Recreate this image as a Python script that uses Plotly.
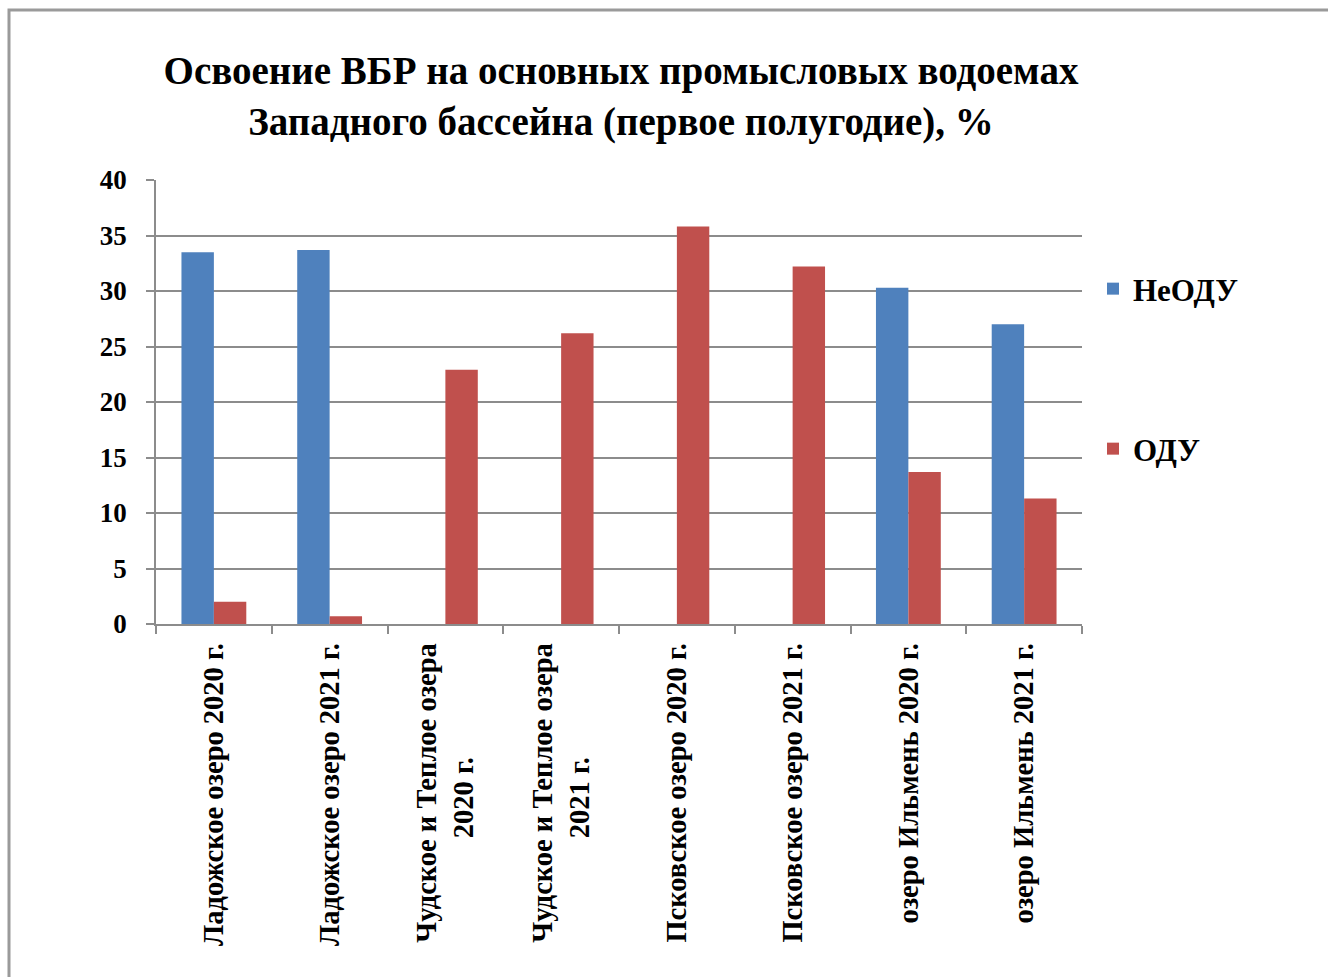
import plotly.graph_objects as go

categories = [
    "Ладожское озеро 2020 г.",
    "Ладожское озеро 2021 г.",
    "Чудское и Теплое озера 2020 г.",
    "Чудское и Теплое озера 2021 г.",
    "Псковское озеро 2020 г.",
    "Псковское озеро 2021 г.",
    "озеро Ильмень 2020 г.",
    "озеро Ильмень 2021 г.",
]
tick_labels = [
    "Ладожское озеро 2020 г.",
    "Ладожское озеро 2021 г.",
    "Чудское и Теплое озера<br>2020 г." + "\u00a0" * 16,
    "Чудское и Теплое озера<br>2021 г." + "\u00a0" * 16,
    "Псковское озеро 2020 г.",
    "Псковское озеро 2021 г.",
    "озеро Ильмень 2020 г.",
    "озеро Ильмень 2021 г.",
]
neodu = [33.5, 33.7, None, None, None, None, 30.3, 27.0]
odu = [2.0, 0.7, 22.9, 26.2, 35.8, 32.2, 13.7, 11.3]
yticks = [0, 5, 10, 15, 20, 25, 30, 35, 40]

FONT = "Liberation Serif"

fig = go.Figure()
fig.add_trace(go.Bar(x=categories, y=neodu, name="<b>НеОДУ</b>",
                     marker=dict(color="#4F81BD", line=dict(width=0)), legend="legend"))
fig.add_trace(go.Bar(x=categories, y=odu, name="<b>ОДУ</b>",
                     marker=dict(color="#C0504D", line=dict(width=0)), legend="legend2"))

L, R, T, B = 156, 1082, 180, 624
W, H = R - L, B - T

fig.update_layout(
    width=1328, height=977,
    margin=dict(l=L, r=1328 - R, t=T, b=977 - B, pad=0),
    paper_bgcolor="white", plot_bgcolor="white",
    barmode="group", bargap=0.44, bargroupgap=0,
    font=dict(family=FONT, color="black"),
    title=dict(
        text="<b>Освоение ВБР на основных промысловых водоемах<br>Западного бассейна (первое полугодие), %</b>",
        x=621 / 1328, xanchor="center", xref="container",
        y=1 - 84 / 977, yanchor="middle", yref="container",
        font=dict(family=FONT, size=39, color="black"),
    ),
    legend=dict(x=(1093 - L) / W, y=(B - 289) / H, xanchor="left", yanchor="middle",
                font=dict(family=FONT, size=31, color="black"), bgcolor="rgba(0,0,0,0)",
                itemclick=False),
    legend2=dict(x=(1093 - L) / W, y=(B - 449) / H, xanchor="left", yanchor="middle",
                 font=dict(family=FONT, size=31, color="black"), bgcolor="rgba(0,0,0,0)",
                 itemclick=False),
    showlegend=True,
    xaxis=dict(
        type="category", tickangle=-90, tickson="boundaries",
        tickvals=categories, ticktext=[f"<b>{t}</b>" for t in tick_labels],
        ticks="outside", ticklen=8, tickcolor="#8c8c8c", tickwidth=1.5,
        showline=True, linecolor="#8c8c8c", linewidth=1.5,
        showgrid=False, ticklabelstandoff=6,
        tickfont=dict(family=FONT, size=28.5, color="black"),
    ),
    yaxis=dict(
        range=[0, 40], tickvals=yticks, ticktext=[f"<b>{v}</b>" for v in yticks],
        ticks="outside", ticklen=8, tickcolor="#8c8c8c", tickwidth=1.5,
        showline=True, linecolor="#8c8c8c", linewidth=1.5,
        showgrid=True, gridcolor="#8c8c8c", gridwidth=1.5,
        zeroline=False, ticklabelstandoff=14,
        tickfont=dict(family=FONT, size=27, color="black"),
    ),
)

fig.add_shape(type="rect", xref="paper", yref="paper",
              x0=(9 - L) / W, x1=(1400 - L) / W,
              y0=(B - 1050) / H, y1=(B - 10) / H,
              line=dict(color="#9a9a9a", width=3), fillcolor="rgba(0,0,0,0)", layer="below")

fig.write_html("out.html")
